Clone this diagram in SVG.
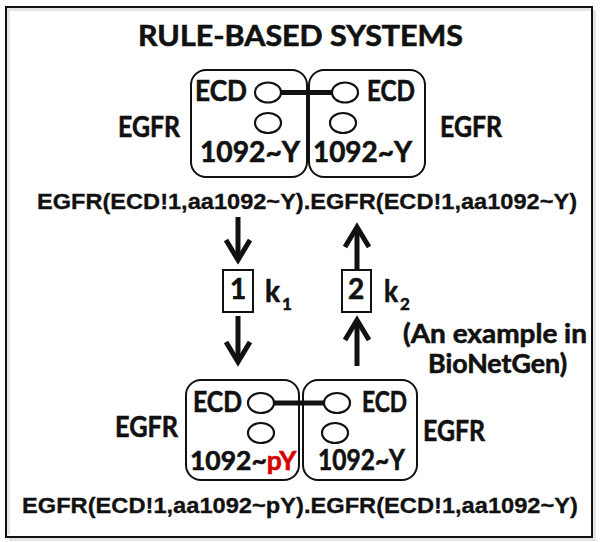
<svg xmlns="http://www.w3.org/2000/svg" width="604" height="542" viewBox="0 0 604 542">
<style>
.lbl{font-family:Lato,"Open Sans","Liberation Sans",sans-serif;font-weight:700;fill:#111;stroke:#111;stroke-width:0.6;}
.big{font-size:28px;}
.red{fill:#d90000;stroke:#d90000;}
.frm{font-family:"Liberation Sans",Arial,sans-serif;font-weight:700;font-size:21.5px;fill:#111;stroke:#111;stroke-width:0.3;}
.box{fill:#fff;stroke:#111;stroke-width:2;}
.site{fill:#fff;stroke:#111;stroke-width:2.2;}
.bond{stroke:#111;stroke-width:5;fill:none;}
.arr{stroke:#111;stroke-width:5;fill:none;}
.rb{fill:#fff;stroke:#111;stroke-width:2;}
</style>
<defs>
<marker id="chev" markerUnits="userSpaceOnUse" viewBox="-30 -16 36 32" refX="0" refY="0" markerWidth="36" markerHeight="32" orient="auto" overflow="visible">
<path d="M-20,-12 L0,0 L-20,12" fill="none" stroke="#111" stroke-width="5"/>
</marker>
</defs>
<rect x="0" y="0" width="604" height="542" fill="#fff"/>
<rect x="9" y="10" width="587" height="531" fill="#e4e4e4"/>
<rect x="6" y="7" width="586" height="530" fill="#fff" stroke="#111" stroke-width="2"/>
<path d="M8.5,535 V9.5 H590" fill="none" stroke="#e6e6e6" stroke-width="3"/>

<g id="title"><text class="lbl" x="138" y="46" font-size="29" textLength="325" lengthAdjust="spacingAndGlyphs">RULE-BASED SYSTEMS</text></g>

<g id="top-left-egfr">
<rect class="box" x="191" y="70" width="116" height="107" rx="15"/>
<text class="lbl big" x="195" y="101" textLength="52" lengthAdjust="spacingAndGlyphs">ECD</text>
<ellipse class="site" cx="268" cy="92.5" rx="13" ry="10"/>
<ellipse class="site" cx="268" cy="123" rx="13" ry="10"/>
<text class="lbl big" x="200" y="162" textLength="100" lengthAdjust="spacingAndGlyphs">1092~Y</text>
</g>
<g id="top-right-egfr">
<rect class="box" x="309" y="70" width="116" height="107" rx="15"/>
<ellipse class="site" cx="345" cy="92.5" rx="13" ry="10"/>
<ellipse class="site" cx="343" cy="123" rx="13" ry="10"/>
<text class="lbl big" x="367" y="101" textLength="48" lengthAdjust="spacingAndGlyphs">ECD</text>
<text class="lbl big" x="313" y="162" textLength="99" lengthAdjust="spacingAndGlyphs">1092~Y</text>
</g>
<g id="top-labels">
<text class="lbl big" x="118" y="137" textLength="62" lengthAdjust="spacingAndGlyphs">EGFR</text>
<text class="lbl big" x="440" y="137" textLength="62" lengthAdjust="spacingAndGlyphs">EGFR</text>
<text class="frm" x="37" y="209" textLength="540" lengthAdjust="spacingAndGlyphs">EGFR(ECD!1,aa1092~Y).EGFR(ECD!1,aa1092~Y)</text>
</g>

<g id="rule1">
<rect class="rb" x="223" y="270" width="30" height="42"/>
<text class="lbl big" x="238" y="299" text-anchor="middle">1</text>
<text class="lbl" x="265" y="302" font-size="30" textLength="15" lengthAdjust="spacingAndGlyphs">k</text>
<text class="lbl" x="282" y="310" font-size="17">1</text>
</g>
<g id="rule2">
<rect class="rb" x="342" y="270" width="29" height="42"/>
<text class="lbl big" x="356" y="299" text-anchor="middle">2</text>
<text class="lbl" x="384" y="302" font-size="30" textLength="14" lengthAdjust="spacingAndGlyphs">k</text>
<text class="lbl" x="400" y="310" font-size="17">2</text>
</g>
<g id="note">
<text class="lbl" x="403" y="343" font-size="26" textLength="184" lengthAdjust="spacingAndGlyphs">(An example in</text>
<text class="lbl" x="428" y="373" font-size="26" textLength="139" lengthAdjust="spacingAndGlyphs">BioNetGen)</text>
</g>

<g id="bottom-left-egfr">
<rect class="box" x="186" y="380" width="113" height="100" rx="15"/>
<text class="lbl big" x="193" y="412" textLength="49" lengthAdjust="spacingAndGlyphs">ECD</text>
<ellipse class="site" cx="261" cy="403" rx="13" ry="10"/>
<ellipse class="site" cx="261" cy="433" rx="13" ry="10"/>
<text class="lbl" x="190" y="470" font-size="26.5">1092~<tspan class="red">pY</tspan></text>
</g>
<g id="bottom-right-egfr">
<rect class="box" x="303" y="380" width="114" height="100" rx="15"/>
<ellipse class="site" cx="337" cy="403" rx="13" ry="10"/>
<ellipse class="site" cx="335" cy="433" rx="13" ry="10"/>
<text class="lbl big" x="362" y="412" textLength="45" lengthAdjust="spacingAndGlyphs">ECD</text>
<text class="lbl big" x="318" y="470" textLength="87" lengthAdjust="spacingAndGlyphs">1092~Y</text>
</g>
<g id="bottom-labels">
<text class="lbl big" x="115" y="437" textLength="63" lengthAdjust="spacingAndGlyphs">EGFR</text>
<text class="lbl big" x="423" y="441" textLength="62" lengthAdjust="spacingAndGlyphs">EGFR</text>
<text class="frm" x="22" y="513" textLength="556" lengthAdjust="spacingAndGlyphs">EGFR(ECD!1,aa1092~pY).EGFR(ECD!1,aa1092~Y)</text>
</g>

<g id="connectors">
<line class="bond" x1="281" y1="92.5" x2="332" y2="92.5"/>
<line class="bond" x1="274" y1="403" x2="324" y2="403"/>
<line class="arr" x1="238" y1="217" x2="238" y2="260" marker-end="url(#chev)"/>
<line class="arr" x1="238" y1="316" x2="238" y2="362" marker-end="url(#chev)"/>
<line class="arr" x1="357" y1="269" x2="357" y2="227" marker-end="url(#chev)"/>
<line class="arr" x1="357" y1="366" x2="357" y2="320" marker-end="url(#chev)"/>
</g>
</svg>
